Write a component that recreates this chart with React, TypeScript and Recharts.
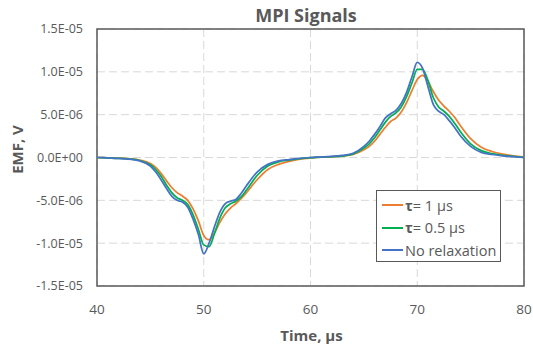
import React from "react";
import { LineChart, Line, XAxis, YAxis, CartesianGrid, Legend, ReferenceArea } from "recharts";

const times = [40, 41, 42, 43, 44, 45, 45.5, 46, 46.5, 47, 47.5, 48, 48.5, 49, 49.5, 50, 50.5, 51, 51.5, 52, 52.5, 53, 53.5, 54, 55, 56, 57, 58, 59, 60, 61, 62, 63, 64, 65, 65.5, 66, 66.5, 67, 67.5, 68, 68.5, 69, 69.5, 70, 70.5, 71, 71.5, 72, 72.5, 73, 73.5, 74, 75, 76, 77, 78, 79, 80];

const tau1 = [0, -0.04e-6, -0.08e-6, -0.15e-6, -0.3e-6, -0.7e-6, -1.15e-6, -1.85e-6, -2.7e-6, -3.5e-6, -4.1e-6, -4.5e-6, -5.0e-6, -6.0e-6, -7.4e-6, -9.1e-6, -9.6e-6, -8.8e-6, -7.6e-6, -6.6e-6, -5.9e-6, -5.4e-6, -4.8e-6, -4.1e-6, -2.6e-6, -1.4e-6, -0.8e-6, -0.45e-6, -0.2e-6, -0.06e-6, 0.03e-6, 0.08e-6, 0.17e-6, 0.35e-6, 0.9e-6, 1.3e-6, 1.9e-6, 2.7e-6, 3.5e-6, 4.2e-6, 4.6e-6, 5.3e-6, 6.4e-6, 7.8e-6, 9.1e-6, 9.6e-6, 8.9e-6, 7.7e-6, 6.7e-6, 6.0e-6, 5.4e-6, 4.7e-6, 3.8e-6, 2.2e-6, 1.2e-6, 0.7e-6, 0.4e-6, 0.2e-6, 0.05e-6];

const tau05 = [0, -0.05e-6, -0.1e-6, -0.18e-6, -0.35e-6, -0.85e-6, -1.4e-6, -2.2e-6, -3.2e-6, -4.1e-6, -4.7e-6, -5.0e-6, -5.5e-6, -6.7e-6, -8.4e-6, -10.2e-6, -10.4e-6, -8.9e-6, -7.1e-6, -5.9e-6, -5.4e-6, -5.1e-6, -4.6e-6, -3.8e-6, -2.1e-6, -1.0e-6, -0.5e-6, -0.3e-6, -0.12e-6, -0.02e-6, 0.04e-6, 0.1e-6, 0.2e-6, 0.42e-6, 1.1e-6, 1.6e-6, 2.3e-6, 3.2e-6, 4.1e-6, 4.8e-6, 5.2e-6, 5.9e-6, 7.1e-6, 8.7e-6, 10.3e-6, 10.3e-6, 9.0e-6, 7.0e-6, 5.9e-6, 5.4e-6, 4.8e-6, 4.0e-6, 3.1e-6, 1.6e-6, 0.8e-6, 0.45e-6, 0.25e-6, 0.12e-6, 0.02e-6];

const noRelax = [0, -0.05e-6, -0.1e-6, -0.2e-6, -0.4e-6, -1.0e-6, -1.7e-6, -2.6e-6, -3.6e-6, -4.5e-6, -5.0e-6, -5.2e-6, -5.8e-6, -7.2e-6, -9.0e-6, -11.25e-6, -10.0e-6, -8.1e-6, -6.4e-6, -5.4e-6, -5.1e-6, -4.9e-6, -4.2e-6, -3.3e-6, -1.7e-6, -0.8e-6, -0.4e-6, -0.25e-6, -0.1e-6, 0, 0.05e-6, 0.12e-6, 0.25e-6, 0.5e-6, 1.3e-6, 1.9e-6, 2.7e-6, 3.6e-6, 4.6e-6, 5.1e-6, 5.5e-6, 6.3e-6, 7.6e-6, 9.4e-6, 11.1e-6, 10.4e-6, 8.3e-6, 6.2e-6, 5.4e-6, 5.0e-6, 4.3e-6, 3.5e-6, 2.6e-6, 1.3e-6, 0.6e-6, 0.35e-6, 0.2e-6, 0.1e-6, 0];

const xTicks = [40, 50, 60, 70, 80];
const yTicks = [-1.5e-5, -1.0e-5, -5e-6, 0, 5e-6, 1.0e-5, 1.5e-5];

const seriesNames = ["τ= 1 µs", "τ= 0.5 µs", "No relaxation"];
const seriesColors = ["#ED7D31", "#00B050", "#4472C4"];

const data = times.map((t, i) => ({ t, tau1: tau1[i], tau05: tau05[i], noRelax: noRelax[i] }));

const FONT = "'Open Sans', sans-serif";
const GRAY = "#595959";

function fmtExp(v: number): string {
  const s = v.toExponential(1);
  const [m, e] = s.split("e");
  const sign = e[0];
  const digits = e.slice(1).padStart(2, "0");
  return m.toUpperCase() + "E" + sign + digits;
}

function LegendBox() {
  return (
    <div
      style={{
        border: `1px solid ${GRAY}`,
        background: "#fff",
        width: 125,
        height: 72,
        boxSizing: "border-box",
        padding: "3px 0 0 5px",
        fontFamily: FONT,
        fontSize: 14.5,
        color: GRAY,
      }}
    >
      {seriesNames.map((n, i) => (
        <div key={n} style={{ display: "flex", alignItems: "center", height: 22.5 }}>
          <div style={{ width: 21, height: 2, background: seriesColors[i], marginRight: 2 }} />
          <span style={{ whiteSpace: "nowrap" }}>
            {n.startsWith("τ") ? (
              <>
                <b style={{ fontWeight: 700 }}>τ</b>
                {n.slice(1)}
              </>
            ) : (
              n
            )}
          </span>
        </div>
      ))}
    </div>
  );
}

export default function App() {
  return (
    <div style={{ position: "absolute", left: 0, top: 0, width: 533, height: 349, background: "#fff" }}>
      <div
        style={{
          position: "absolute",
          left: 206,
          top: 2,
          width: 200,
          textAlign: "center",
          fontFamily: FONT,
          fontWeight: 700,
          fontSize: 18,
          color: GRAY,
          lineHeight: "26px",
        }}
      >
        MPI Signals
      </div>
      <LineChart width={533} height={349} data={data} margin={{ top: 29, right: 9, bottom: 23, left: 0 }}>
        <CartesianGrid stroke="#D9D9D9" strokeDasharray="8 4" strokeWidth={1} />
        <XAxis
          dataKey="t"
          type="number"
          domain={[40, 80]}
          ticks={xTicks}
          height={40}
          axisLine={false}
          tickLine={false}
          tickSize={8}
          tickMargin={10}
          tick={{ fill: GRAY, fontSize: 13.5, fontFamily: FONT }}
          label={(props: any) => {
            const vb = props.viewBox;
            return (
              <text
                x={vb.x + vb.width / 2 + 1}
                y={335}
                textAnchor="middle"
                dominantBaseline="central"
                fill={GRAY}
                fontFamily={FONT}
                fontWeight={700}
                fontSize={15}
              >
                Time, µs
              </text>
            );
          }}
        />
        <YAxis
          type="number"
          domain={[-1.5e-5, 1.5e-5]}
          ticks={yTicks}
          width={97}
          axisLine={false}
          tickLine={false}
          tickSize={8}
          tickMargin={6}
          tickFormatter={fmtExp}
          tick={{ fill: GRAY, fontSize: 12.5, fontFamily: FONT }}
          label={(props: any) => {
            const vb = props.viewBox;
            const cx = 17;
            const cy = vb.y + vb.height / 2 - 8;
            return (
              <text
                x={cx}
                y={cy}
                transform={`rotate(-90 ${cx} ${cy})`}
                textAnchor="middle"
                dominantBaseline="central"
                fill={GRAY}
                fontFamily={FONT}
                fontWeight={700}
                fontSize={15}
              >
                EMF, V
              </text>
            );
          }}
        />
        <ReferenceArea
          x1={40}
          x2={80}
          y1={-1.5e-5}
          y2={1.5e-5}
          fill="none"
          stroke={GRAY}
          strokeWidth={1.5}
          ifOverflow="visible"
        />
        <Line type="monotone" dataKey="tau1" name={seriesNames[0]} stroke={seriesColors[0]} strokeWidth={1.75} dot={false} isAnimationActive={false} />
        <Line type="monotone" dataKey="tau05" name={seriesNames[1]} stroke={seriesColors[1]} strokeWidth={1.75} dot={false} isAnimationActive={false} />
        <Line type="monotone" dataKey="noRelax" name={seriesNames[2]} stroke={seriesColors[2]} strokeWidth={1.75} dot={false} isAnimationActive={false} />
        <Legend
          layout="vertical"
          align="center"
          verticalAlign="middle"
          content={() => <LegendBox />}
          wrapperStyle={{ left: 376, top: 190, width: 125, height: 72 }}
        />
      </LineChart>
    </div>
  );
}
